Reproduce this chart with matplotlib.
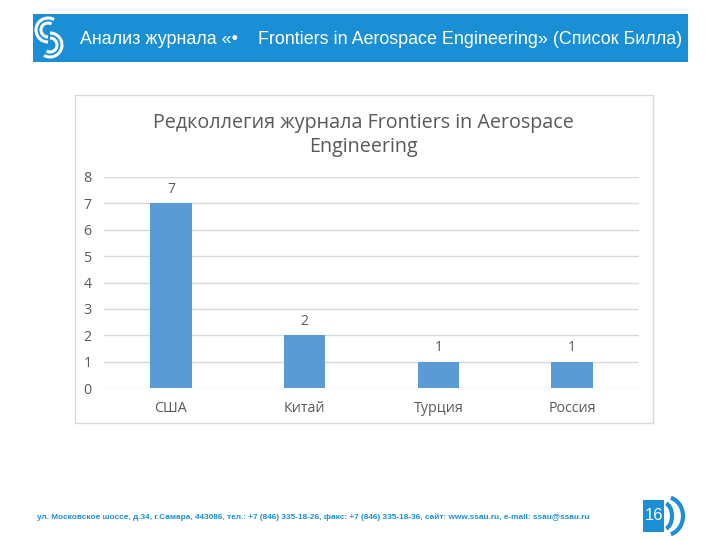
import numpy as np
import matplotlib
matplotlib.use("Agg")
import matplotlib.pyplot as plt
from matplotlib.patches import Rectangle, Arc

countries = ["США", "Китай", "Турция", "Россия"]
members = [7, 2, 1, 1]
yticks = [0, 1, 2, 3, 4, 5, 6, 7, 8]

header = "Анализ журнала «•    Frontiers in Aerospace Engineering» (Список Билла)"
chart_title = "Редколлегия журнала Frontiers in Aerospace\nEngineering"
footer = ("ул. Московское шоссе, д.34, г.Самара, 443086, тел.: +7 (846) 335-18-26, "
          "факс: +7 (846) 335-18-36, сайт: www.ssau.ru, e-mail: ssau@ssau.ru")
page = "16"

blue = "#1a8fd5"
grey_txt = "#595959"

W, H = 720, 540
fig = plt.figure(figsize=(7.2, 5.4), dpi=100)
fig.patch.set_facecolor("white")

# slide decorations in pixel coordinates
deco = fig.add_axes([0, 0, 1, 1], zorder=0)
deco.set_xlim(0, W)
deco.set_ylim(H, 0)
deco.axis("off")

deco.add_patch(Rectangle((33, 14), 655, 48, color=blue, lw=0))
# logo: rough white swirl
for r, t1, t2 in [(12, 90, 300), (7, 90, 300)]:
    deco.add_patch(Arc((48, 30), 2 * r, 2 * r, theta1=t1, theta2=t2, color="white", lw=2.2))
for r, t1, t2 in [(12, 270, 120), (7, 270, 120)]:
    deco.add_patch(Arc((50, 45), 2 * r, 2 * r, theta1=t1, theta2=t2, color="white", lw=2.2))
deco.text(80, 39, header, color="white", fontsize=12.9, family="Liberation Sans",
          ha="left", va="center")

# chart frame
deco.add_patch(Rectangle((75, 95), 578, 328, fill=False, ec="#d9d9d9", lw=1))
deco.text(363, 135, chart_title, color=grey_txt, fontsize=14.2, family="Open Sans",
          ha="center", va="center", linespacing=1.25)

# footer
deco.text(37, 517, footer, color=blue, fontsize=5.95, family="Liberation Sans",
          weight="bold", ha="left", va="center")
deco.add_patch(Rectangle((643, 500), 21, 32, color=blue, lw=0))
deco.text(653.5, 516, page, color="white", fontsize=12, family="Liberation Sans",
          ha="center", va="center")
deco.add_patch(Arc((664, 516), 16, 26, theta1=-80, theta2=80, color=blue, lw=3))
deco.add_patch(Arc((666, 516), 34, 38, theta1=-75, theta2=75, color=blue, lw=3))

# bar chart
ax = fig.add_axes([104 / W, (H - 388) / H, 535 / W, 211 / H], zorder=1)
ax.patch.set_alpha(0)
x = np.arange(len(countries))
bars = ax.bar(x, members, width=0.31, color="#5b9bd5", zorder=2)
for b, v in zip(bars, members):
    ax.text(b.get_x() + b.get_width() / 2, v + 0.25, str(v), ha="center", va="bottom",
            fontsize=10, color=grey_txt, family="Open Sans")
ax.set_xlim(-0.5, len(countries) - 0.5)
ax.set_ylim(0, 8)
ax.set_yticks(yticks)
ax.set_xticks(x, countries)
ax.grid(axis="y", color="#d9d9d9", lw=1, zorder=0)
for s in ax.spines.values():
    s.set_visible(False)
ax.tick_params(length=0, labelsize=10.3, colors=grey_txt, pad=9)
for lab in ax.get_xticklabels() + ax.get_yticklabels():
    lab.set_family("Open Sans")

fig.savefig("out.png", dpi=100)
